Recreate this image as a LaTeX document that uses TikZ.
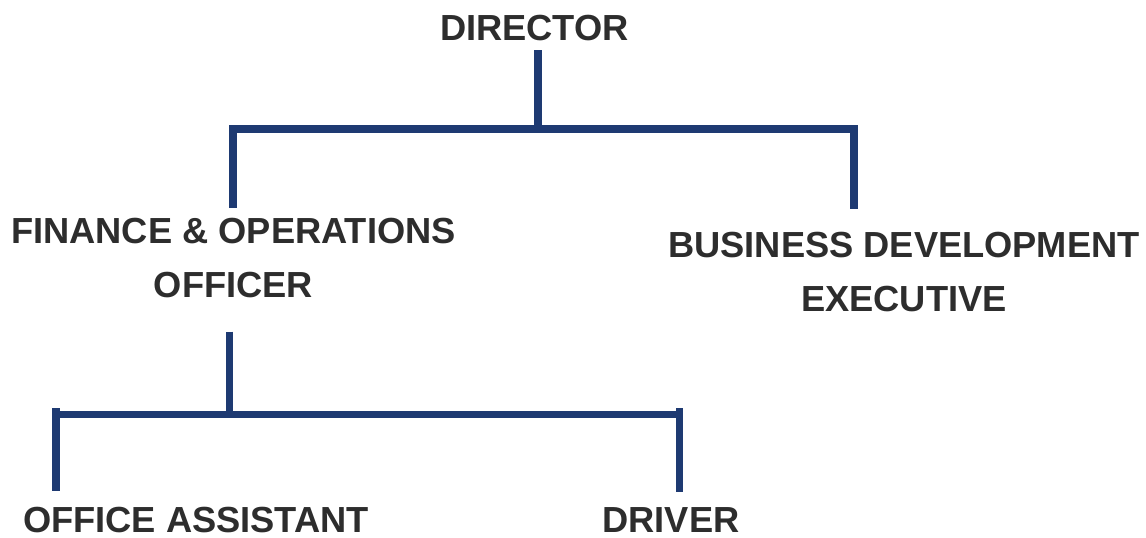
\documentclass[tikz,border=0pt]{standalone}
\usepackage{fontspec}
\setmainfont{Liberation Sans}
\usetikzlibrary{calc}
\definecolor{navy}{HTML}{1E3A72}
\definecolor{ink}{HTML}{2D2D2D}
\tikzset{
  lbl/.style={inner sep=0pt, text=ink, align=center,
    font=\fontsize{27.2pt}{40.5pt}\selectfont\bfseries},
  conn/.style={draw=navy, line width=5.6pt, line join=miter},
}
\begin{document}
\begin{tikzpicture}[x=0.75pt, y=-0.75pt]
\useasboundingbox (0,0) rectangle (1146,537);
% nodes
\node[lbl, anchor=base] (dir) at (534.5,40) {DIRECTOR};
\node[lbl] (fin) at (233.5,258.5) {FINANCE \& OPERATIONS\\OFFICER};
\node[lbl] (bus) at (904,272.5) {BUSINESS DEVELOPMENT\\EXECUTIVE};
\node[lbl, anchor=base] (oa) at (196,532) {OFFICE ASSISTANT};
\node[lbl, anchor=base] (drv) at (671,532) {DRIVER};
% junctions
\coordinate (j1) at (538,129);
\coordinate (j2) at (229.5,414.5);
\coordinate (bl) at (56,414.5);
\coordinate (br) at (679.5,414.5);
% connectors
\draw[conn] ($(dir.south -| j1)+(0,9.5)$) -- (j1);
\draw[conn] ($(fin.north)+(-0.5,-10.5)$) |- (j1) -| ($(bus.north)+(-50,-23)$);
\draw[conn] ($(fin.south -| j2)+(0,33)$) -- (j2);
\draw[conn, line cap=rect] (bl) -- (br);
\draw[conn] ($(bl)+(0,-6.5)$) -- ($(oa.north -| bl)+(0,-15)$);
\draw[conn] ($(br)+(0,-6.5)$) -- ($(drv.north -| br)+(0,-15)$);
\end{tikzpicture}
\end{document}
